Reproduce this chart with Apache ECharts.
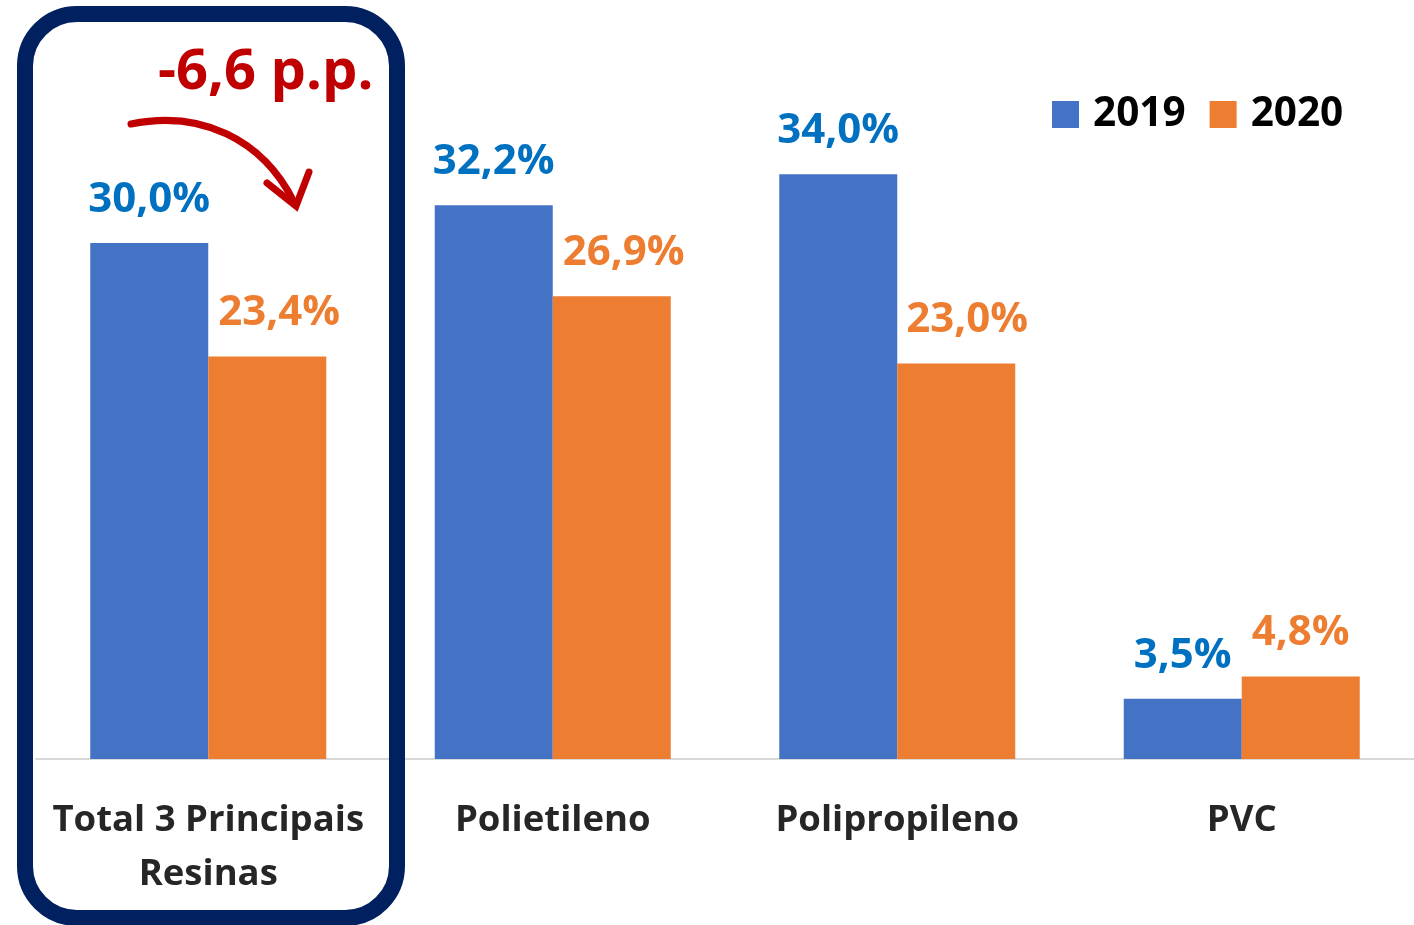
<!DOCTYPE html>
<html>
<head>
<meta charset="utf-8">
<script src="https://cdn.jsdelivr.net/npm/echarts@6/dist/echarts.min.js"></script>
<style>
  html, body { margin: 0; padding: 0; background: #fff; }
  #chart { width: 1414px; height: 925px; }
</style>
</head>
<body>
<div id="chart"></div>
<script>
// Resin share by category, 2019 vs 2020 (values in %)
var categories = ['Total 3 Principais\nResinas', 'Polietileno', 'Polipropileno', 'PVC'];
var years = ['2019', '2020'];
var values2019 = [30.0, 32.2, 34.0, 3.5];
var values2020 = [23.4, 26.9, 23.0, 4.8];
var deltaText = '-6,6 p.p.';

var FONT = 'Open Sans, sans-serif';
var BLUE = '#4472C4', ORANGE = '#ED7D31';

function pct(p) {
    return p.value.toFixed(1).replace('.', ',') + '%';
}

// labelShift: horizontal nudge per bar (the 2020 labels sit a bit right of center)
function barSeries(name, data, color, labelColor, labelShift) {
    var items = [];
    for (var i = 0; i < data.length; i++) {
        items.push({ value: data[i], label: { offset: [labelShift[i] || 0, 0] } });
    }
    return {
        name: name,
        type: 'bar',
        data: items,
        barWidth: 118,
        barGap: '0%',
        itemStyle: { color: color },
        label: {
            show: true,
            position: 'top',
            distance: 22,
            formatter: pct,
            fontFamily: FONT,
            fontWeight: 'bold',
            fontSize: 42,
            color: labelColor
        }
    };
}

var chart = echarts.init(document.getElementById('chart'), null, { renderer: 'canvas' });
chart.setOption({
    animation: false,
    grid: { left: 36, right: -2, top: 71, bottom: 166 },
    legend: {
        data: years,
        left: 1047,
        top: 89,
        itemWidth: 27,
        itemHeight: 27,
        itemGap: 24,
        icon: 'rect',
        textStyle: {
            fontFamily: FONT, fontWeight: 'bold', fontSize: 40.5, color: '#000',
            padding: [0, 0, 0, 9]
        }
    },
    xAxis: {
        type: 'category',
        data: categories,
        axisLine: { lineStyle: { color: '#d9d9d9', width: 2 } },
        axisTick: { show: false },
        axisLabel: {
            margin: 35,
            interval: 0,
            fontFamily: FONT,
            fontWeight: 'bold',
            fontSize: 36.5,
            lineHeight: 54,
            color: '#262626'
        }
    },
    yAxis: {
        type: 'value',
        min: 0,
        max: 40,
        show: false,
        splitLine: { show: false }
    },
    series: [
        barSeries(years[0], values2019, BLUE, '#0070C0', [0, 0, 0, 0]),
        barSeries(years[1], values2020, ORANGE, '#ED7D31', [12, 12, 11, 0])
    ],
    graphic: [
        {
            type: 'rect',
            shape: { x: 25, y: 14, width: 372, height: 904, r: 52 },
            style: { fill: 'none', stroke: '#002060', lineWidth: 16 },
            z: 10
        },
        {
            type: 'text',
            x: 158, y: 73,
            style: {
                text: deltaText,
                fontFamily: FONT, fontWeight: 'bold', fontSize: 56,
                fill: '#C00000',
                verticalAlign: 'middle'
            },
            z: 10
        },
        {
            type: 'bezierCurve',
            shape: { x1: 131, y1: 124, cpx1: 200, cpy1: 110, cpx2: 262, cpy2: 138, x2: 294, y2: 202 },
            style: { fill: 'none', stroke: '#C00000', lineWidth: 7, lineCap: 'round' },
            z: 10
        },
        {
            type: 'polyline',
            shape: { points: [[267, 183], [296, 206], [309, 172]] },
            style: { fill: 'none', stroke: '#C00000', lineWidth: 7, lineCap: 'round', lineJoin: 'miter' },
            z: 10
        }
    ]
});
</script>
</body>
</html>
